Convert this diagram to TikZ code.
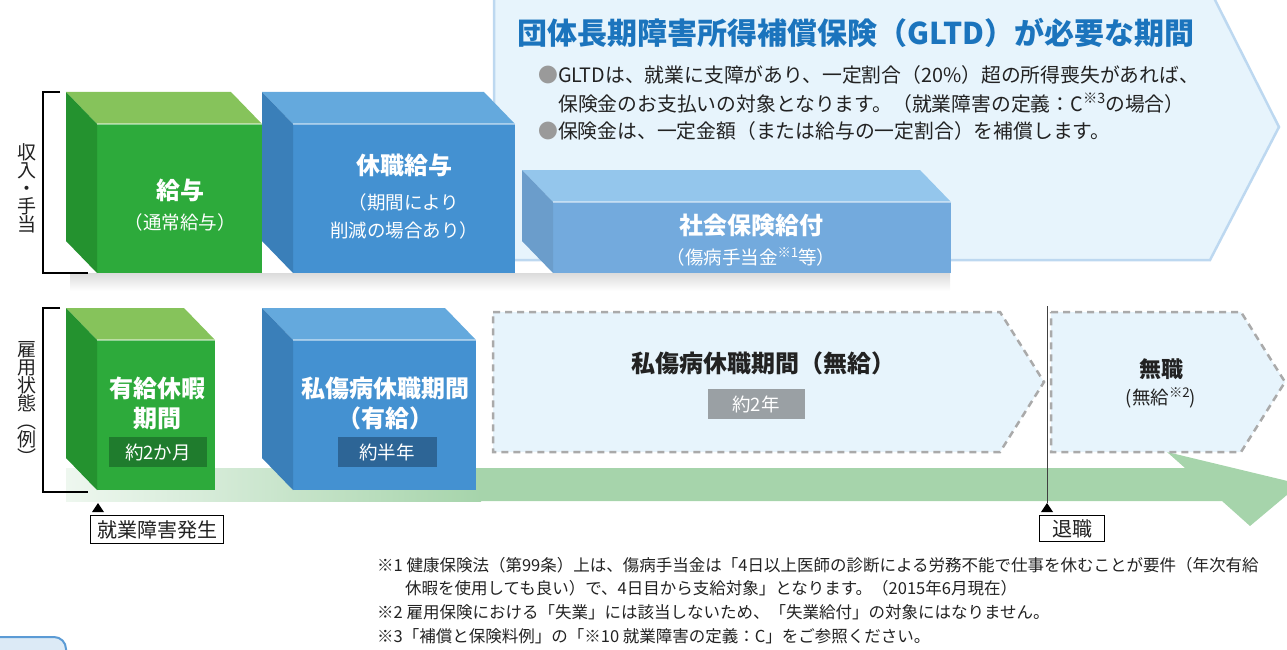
\documentclass[tikz,border=0pt]{standalone}
\usepackage{fontspec}
\setmainfont{Noto Sans CJK JP}
\usepackage{graphicx}
\usetikzlibrary{calc}
\definecolor{gfront}{HTML}{2DAA3B}
\definecolor{gtop}{HTML}{86C35B}
\definecolor{gside}{HTML}{24922F}
\definecolor{bfront}{HTML}{4491D1}
\definecolor{btop}{HTML}{64A9DD}
\definecolor{bside}{HTML}{3A7FB9}
\definecolor{cfront}{HTML}{73AADD}
\definecolor{ctop}{HTML}{94C6EC}
\definecolor{cside}{HTML}{6B9DCB}
\definecolor{gtag}{HTML}{1F7C2D}
\definecolor{btag}{HTML}{2D6596}
\definecolor{graytag}{HTML}{9AA0A4}
\definecolor{bandgreen}{HTML}{A6D4AB}
\definecolor{bandlight}{HTML}{EEF7EF}
\definecolor{palebg}{HTML}{E7F4FC}
\definecolor{bannerline}{HTML}{BDD8F0}
\definecolor{dashgray}{HTML}{AAAAAA}
\definecolor{titleblue}{HTML}{1B74BD}
\definecolor{bulletgray}{HTML}{9A9A9A}
\definecolor{textdark}{HTML}{222222}
\definecolor{cornerfill}{HTML}{DCEAF6}
\definecolor{cornerline}{HTML}{5B9BD5}
\newcommand\mysup[1]{\raisebox{0.4em}{\scalebox{0.72}{#1}}}
\newcommand\cubesides[3]{%
  \fill[#2] (#1.north west) -- (#1.north east) -- ($(#1.north east)+(-31,-32)$) -- ($(#1.north west)+(-31,-32)$) -- cycle;
  \fill[#3] (#1.north west) -- (#1.south west) -- ($(#1.south west)+(-31,-32)$) -- ($(#1.north west)+(-31,-32)$) -- cycle;
  \draw[white, opacity=.45, line width=1.2pt] (#1.north west) -- (#1.north east);
}
\tikzset{
  face/.style={inner sep=0pt, outer sep=0pt},
  boxtitle/.style={text=white, font=\bfseries\fontsize{24}{30}\selectfont, align=center, inner sep=0pt},
  boxsub/.style={text=white, font=\fontsize{18.5}{28}\selectfont, align=center, inner sep=0pt},
  tag/.style={inner sep=0pt, minimum height=30pt, text=white, font=\fontsize{18.5}{20}\selectfont},
  dashbox/.style={draw=dashgray, line width=2.5pt, dash pattern=on 7pt off 5pt, fill=palebg},
  markbox/.style={draw=black, line width=1.3pt, fill=white, inner sep=0pt, font=\fontsize{20}{22}\selectfont, text=textdark},
  bracket/.style={line width=1.2pt},
  vlabel/.style={font=\fontsize{19}{18}\selectfont, align=center, inner sep=0pt, text=textdark},
  note/.style={font=\fontsize{16.5}{20}\selectfont, anchor=west, inner sep=0pt, text=textdark},
  bullet/.style={font=\fontsize{19.8}{24}\selectfont, anchor=west, inner sep=0pt, text=textdark},
}
\begin{document}
\begin{tikzpicture}[x=1pt,y=-1pt]
\useasboundingbox (0,0) rectangle (1287,650);
% banner
\filldraw[fill=palebg, draw=bannerline, line width=2.5pt]
  (494,-6) -- (1212,-6) -- (1279,127) -- (1210,260) -- (494,260) -- cycle;
\node[anchor=west, inner sep=0pt, text=titleblue, font=\bfseries\fontsize{30}{32}\selectfont] (title) at (517,33)
  {団体長期障害所得補償保険（GLTD）が必要な期間};
\node[bullet] (bl1) at (538,75) {{\color{bulletgray}●}GLTDは、就業に支障があり、一定割合（20\%）超の所得喪失があれば、};
\node[bullet] (bl2) at (558,103) {保険金のお支払いの対象となります。（就業障害の定義：C\mysup{※3}の場合）};
\node[bullet] (bl3) at (538,131) {{\color{bulletgray}●}保険金は、一定金額（または給与の一定割合）を補償します。};
% shadow under row 1
\shade[top color=black!14, bottom color=white] (70,273) rectangle (950,291);
% green band arrow
\shade[left color=bandlight, right color=bandgreen] (66,468) rectangle (481,501);
\fill[bandgreen] (480,468) -- (1185,468) -- (1167,452) -- (1300,484) -- (1250,526) -- (1222,501) -- (480,501) -- cycle;
% dashed pentagons
\filldraw[dashbox] (493,312) -- (1000,312) -- (1044,382) -- (1000,452) -- (493,452) -- cycle;
\filldraw[dashbox] (1051,312) -- (1241,312) -- (1285,382) -- (1241,452) -- (1051,452) -- cycle;
\node[text=textdark, font=\bfseries\fontsize{24}{26}\selectfont, inner sep=0pt] (unpaid) at (763,363) {私傷病休職期間（無給）};
\node[tag, fill=graytag, minimum width=97pt] (unpaidtag) at (756,404) {約2年};
\node[text=textdark, font=\bfseries\fontsize{22}{24}\selectfont, inner sep=0pt] (jobless) at (1161,369) {無職};
\node[text=textdark, font=\fontsize{18.5}{20}\selectfont, inner sep=0pt] (joblesssub) at (1161,398) {(無給\mysup{※2})};
% row 1 cubes
\node[face, fill=gfront, minimum width=165pt, minimum height=149pt, anchor=north west] (c1) at (97,124) {};
\cubesides{c1}{gtop}{gside}
\node[face, fill=bfront, minimum width=222pt, minimum height=149pt, anchor=north west] (c2) at (293,124) {};
\cubesides{c2}{btop}{bside}
\node[face, fill=cfront, minimum width=398pt, minimum height=71pt, anchor=north west] (c3) at (553,202) {};
\cubesides{c3}{ctop}{cside}
\node[boxtitle] (c1t) at (180,190) {給与};
\node[boxsub] (c1s) at (180,222) {（通常給与）};
\node[boxtitle] (c2t) at (404,165) {休職給与};
\node[boxsub] (c2s) at (404,216) {（期間により\\削減の場合あり）};
\node[boxtitle] (c3t) at (751,225) {社会保険給付};
\node[boxsub] (c3s) at (751,257) {（傷病手当金\mysup{※1}等）};
% row 2 cubes
\node[face, fill=gfront, minimum width=118pt, minimum height=150pt, anchor=north west] (d1) at (97,340) {};
\cubesides{d1}{gtop}{gside}
\node[face, fill=bfront, minimum width=183pt, minimum height=150pt, anchor=north west] (d2) at (293,340) {};
\cubesides{d2}{btop}{bside}
\node[boxtitle] (d1t) at (157,403) {有給休暇\\期間};
\node[tag, fill=gtag, minimum width=98pt] (d1tag) at (158,452) {約2か月};
\node[boxtitle] (d2t) at (385,403) {私傷病休職期間\\（有給）};
\node[tag, fill=btag, minimum width=99pt] (d2tag) at (387,452) {約半年};
% brackets and side labels
\draw[bracket] (60,92) -- (43,92) -- (43,273) -- (88,273);
\draw[bracket] (60,308) -- (43,308) -- (43,492) -- (88,492);
\node[vlabel] (lab1) at (27,188) {収\\入\\・\\手\\当};
\node[vlabel] (lab2) at (27,403) {雇\\用\\状\\態\\︵\\例\\︶};
% markers
\coordinate (onsettip) at (98,503);
\fill (onsettip) -- (104,512) -- (92,512) -- cycle;
\node[markbox, minimum width=133pt, minimum height=28pt, anchor=north west] (onset) at (90,515) {就業障害発生};
\coordinate (rtop) at (1047,306);
\coordinate (rtip) at (1047,503);
\draw[line width=1pt, draw=black!75] (rtop) -- (rtip);
\fill (rtip) -- (1053,512) -- (1041,512) -- cycle;
\node[markbox, minimum width=65pt, minimum height=26pt, anchor=north west] (retire) at (1039,515) {退職};
% footnotes
\node[note] (n1) at (377,565) {※1 健康保険法（第99条）上は、傷病手当金は「4日以上医師の診断による労務不能で仕事を休むことが要件（年次有給};
\node[note] (n1b) at (405,588) {休暇を使用しても良い）で、4日目から支給対象」となります。（2015年6月現在）};
\node[note] (n2) at (377,612) {※2 雇用保険における「失業」には該当しないため、「失業給付」の対象にはなりません。};
\node[note] (n3) at (377,636) {※3「補償と保険料例」の「※10 就業障害の定義：C」をご参照ください。};
% corner element
\filldraw[fill=cornerfill, draw=cornerline, line width=2pt, rounded corners=12pt] (-20,637) rectangle (66,680);
\end{tikzpicture}
\end{document}
